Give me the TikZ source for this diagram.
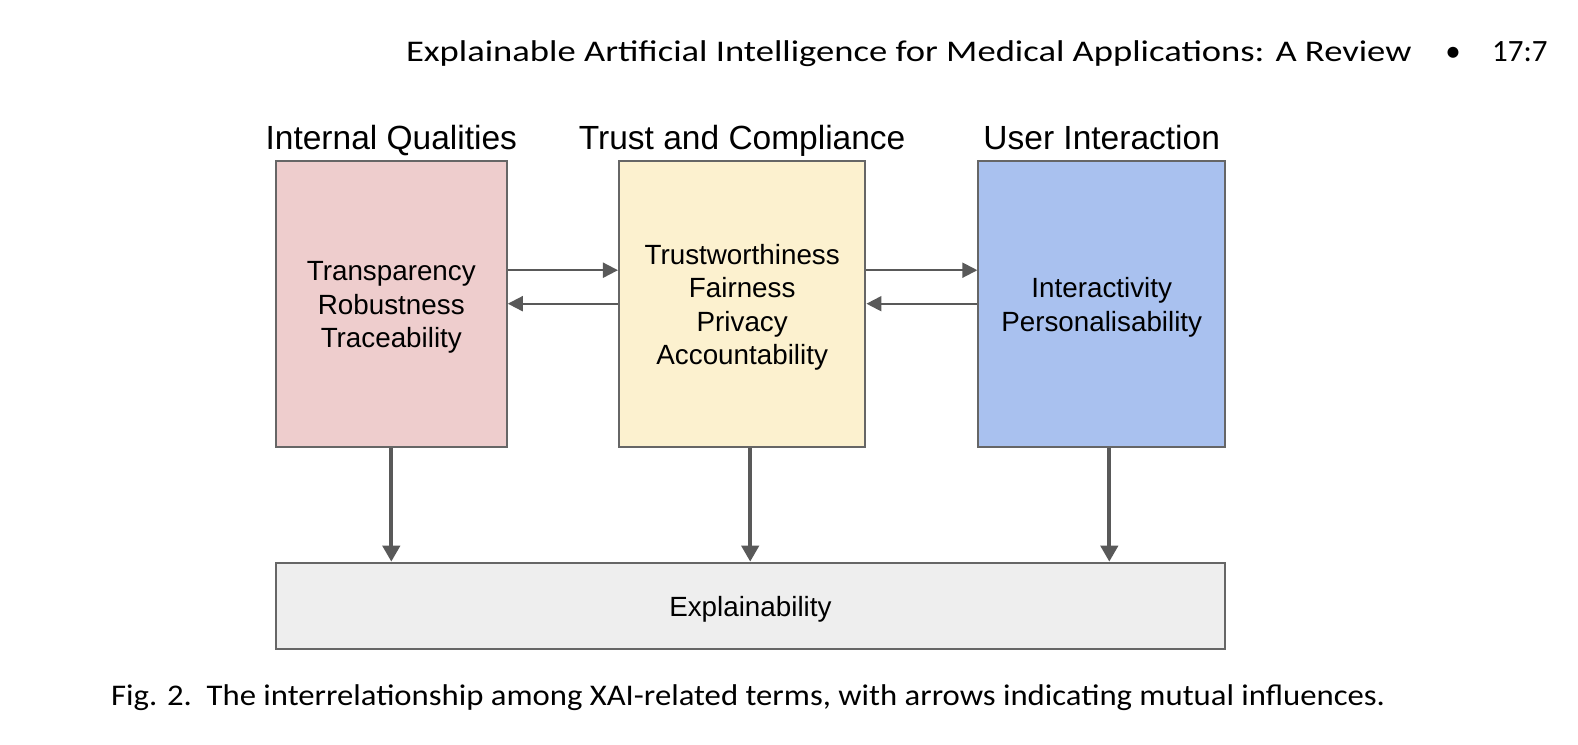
\documentclass[tikz,border=0pt]{standalone}
\usepackage{fontspec}
\setmainfont{Liberation Sans}
\newfontfamily\acmfont{Carlito}
\newfontfamily\headfont[FakeStretch=1.22]{Carlito}
\newfontfamily\capfont[FakeStretch=1.09]{Carlito}
\usepackage{tikz}
\usetikzlibrary{arrows.meta}

\definecolor{boxline}{HTML}{666666}
\definecolor{arrowgray}{HTML}{595959}
\definecolor{redfill}{HTML}{EECDCD}
\definecolor{yellowfill}{HTML}{FCF1CF}
\definecolor{bluefill}{HTML}{A9C1EF}
\definecolor{grayfill}{HTML}{EEEEEE}

\begin{document}
\begin{tikzpicture}[x=0.5pt, y=-0.5pt,
    termbox/.style={draw=boxline, line width=1pt, inner sep=0pt},
    termtext/.style={inner sep=0pt, align=center, font=\fontsize{13.9pt}{16.75pt}\selectfont},
    grouptitle/.style={anchor=base, inner sep=0pt, font=\fontsize{16.75pt}{20pt}\selectfont},
    link/.style={draw=arrowgray, line width=1pt, -{Triangle[length=7.5pt, width=7.5pt]}},
    feed/.style={draw=arrowgray, line width=2pt, -{Triangle[length=8pt, width=8.5pt]}}]
        \useasboundingbox (0, 0) rectangle (1578, 744);
        % running head
        \node[anchor=base east, inner sep=0pt, font=\headfont\fontsize{15pt}{18pt}\selectfont] (head) at (1412, 61)
          {Explainable Artificial Intelligence for Medical Applications: A Review};
        \node[anchor=base, inner sep=0pt, font=\acmfont\fontsize{15.5pt}{18pt}\selectfont] (dot) at (1453, 61) {\textbullet};
        \node[anchor=base east, inner sep=0pt, font=\acmfont\fontsize{15.5pt}{18pt}\selectfont] (page) at (1548, 61) {17:7};
        % group boxes
        \node[termbox, fill=redfill, minimum width=115.5pt, minimum height=143pt] (internal) at (391.3, 303.7) {};
        \node[termbox, fill=yellowfill, minimum width=123.25pt, minimum height=143pt] (trust) at (742.2, 303.7) {};
        \node[termbox, fill=bluefill, minimum width=123.35pt, minimum height=143pt] (user) at (1101.7, 303.7) {};
        \node[termbox, fill=grayfill, minimum width=474.65pt, minimum height=43.3pt] (expl) at (750.4, 606) {};
        \node[termtext] (internaltext) at ([yshift=-1.9pt]internal.center) {Transparency\\Robustness\\Traceability};
        \node[termtext] (trusttext) at ([yshift=-1.9pt]trust.center) {Trustworthiness\\Fairness\\Privacy\\Accountability};
        \node[termtext] (usertext) at ([yshift=-1.9pt]user.center) {Interactivity\\Personalisability};
        \node[termtext] (expltext) at ([yshift=-1.6pt]expl.center) {Explainability};
        % titles
        \node[grouptitle] (internaltitle) at (391.3, 149) {Internal Qualities};
        \node[grouptitle] (trusttitle) at (742.2, 149) {Trust and Compliance};
        \node[grouptitle] (usertitle) at (1101.7, 149) {User Interaction};
        % mutual influences
        \draw[link] ([yshift=16.75pt]internal.east) -- ([yshift=16.75pt]trust.west);
        \draw[link] (trust.west) -- (internal.east);
        \draw[link] ([yshift=16.75pt]trust.east) -- ([yshift=16.75pt]user.west);
        \draw[link] (user.west) -- (trust.east);
        % into explainability
        \draw[feed] (internal.south) -- (internal.south |- expl.north);
        \draw[feed] ([xshift=4pt]trust.south) -- ([xshift=4pt]trust.south |- expl.north);
        \draw[feed] ([xshift=3.8pt]user.south) -- ([xshift=3.8pt]user.south |- expl.north);
        % caption
        \node[anchor=base west, inner sep=0pt, font=\capfont\fontsize{15pt}{18pt}\selectfont] (caption) at (110.7, 705)
          {Fig. 2.\ \ The interrelationship among XAI-related terms, with arrows indicating mutual influences.};
      \end{tikzpicture}
\end{document}
